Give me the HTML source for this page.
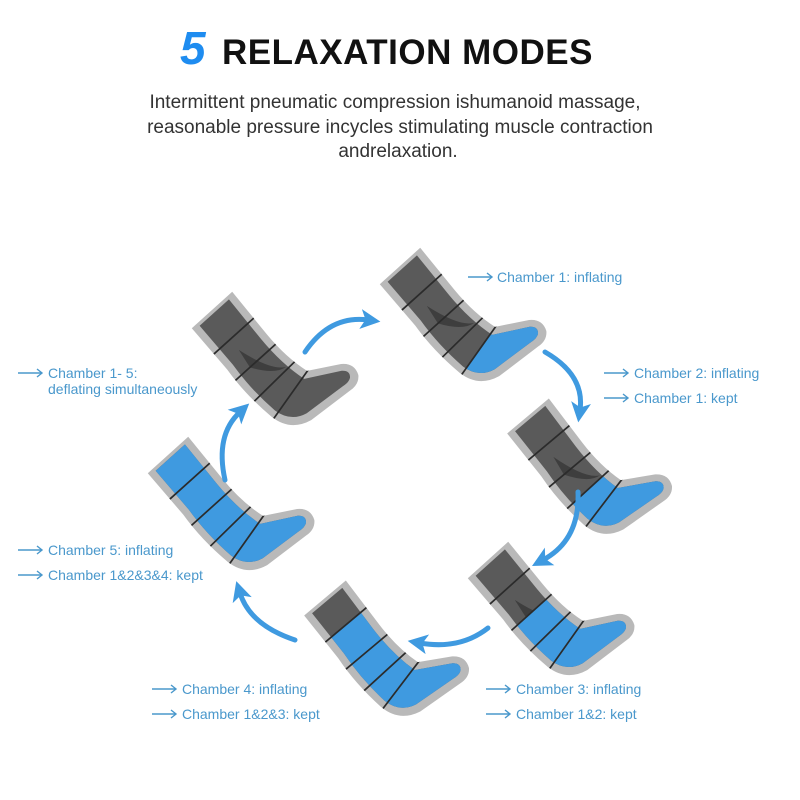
<!DOCTYPE html>
<html><head><meta charset="utf-8"><style>
body{margin:0;width:800px;height:800px;background:#fff;overflow:hidden}
svg{display:block}
</style></head><body>
<svg width="800" height="800" viewBox="0 0 800 800" xmlns="http://www.w3.org/2000/svg" font-family="Liberation Sans, sans-serif">
<defs>
<path id="outer" d="M-40,0 L40,0 L36,80 Q34,125 44,160 L88,186 Q104,198 96,215 Q88,226 72,224 L0,218 Q-34,210 -40,175 Q-47,125 -42,80 Z"/>
<path id="inner" d="M-29,5 L29,5 L25,80 Q23,128 33,166 L82,194 Q92,202 84,210 Q78,214 68,212 L2,206 Q-24,200 -30,172 Q-36,125 -31,80 Z"/>
<clipPath id="ci"><use href="#inner"/></clipPath>
<clipPath id="co"><use href="#outer"/></clipPath>
<g id="lines" clip-path="url(#co)" stroke="#2b2b2b" stroke-width="2.5">
<line x1="-60" y1="50" x2="60" y2="50"/><line x1="-60" y1="100" x2="60" y2="100"/><line x1="-60" y1="142" x2="60" y2="137"/><line x1="-60" y1="184" x2="60" y2="157"/>
</g>
<g id="base"><use href="#outer" fill="#b9b9b9"/><use href="#inner" fill="#5a5a5a"/><path d="M-10,70 Q5,125 25,135 Q5,133 -15,100 Z" fill="#3e3e3e" clip-path="url(#ci)"/></g>
<marker id="ah" markerWidth="4" markerHeight="4" refX="1.5" refY="2" orient="auto"><path d="M0,0 L4,2 L0,4 L1,2 Z" fill="#3f9ae0"/></marker>
</defs>

<text x="180" y="64" font-size="46" font-weight="bold" font-style="italic" fill="#1e8cf0">5</text>
<text x="222" y="64" font-size="35" font-weight="bold" fill="#111" letter-spacing="0.5">RELAXATION MODES</text>
<g font-size="19" fill="#333" text-anchor="middle">
<text x="395" y="108">Intermittent pneumatic compression ishumanoid massage,</text>
<text x="400" y="133">reasonable pressure incycles stimulating muscle contraction</text>
<text x="398" y="157">andrelaxation.</text>
</g>

<!-- legs -->
<g transform="translate(400,266) rotate(-42) scale(0.68)"><use href="#base"/><polygon points="-60,184 60,157 200,157 200,300 -60,300" fill="#3f9ae0" clip-path="url(#ci)"/><use href="#lines"/></g>
<g transform="translate(212,310) rotate(-42) scale(0.68)"><use href="#base"/><use href="#lines"/></g>
<g transform="translate(528,416) rotate(-40) scale(0.68)"><use href="#base"/><polygon points="-60,142 60,137 200,137 200,300 -60,300" fill="#3f9ae0" clip-path="url(#ci)"/><use href="#lines"/></g>
<g transform="translate(488,560) rotate(-42) scale(0.68)"><use href="#base"/><rect x="-60" y="100" width="260" height="200" fill="#3f9ae0" clip-path="url(#ci)"/><use href="#lines"/></g>
<g transform="translate(325,598) rotate(-40) scale(0.68)"><use href="#base"/><rect x="-60" y="50" width="260" height="250" fill="#3f9ae0" clip-path="url(#ci)"/><use href="#lines"/></g>
<g transform="translate(168,455) rotate(-42) scale(0.68)"><use href="#base"/><rect x="-60" y="0" width="260" height="300" fill="#3f9ae0" clip-path="url(#ci)"/><use href="#lines"/></g>

<!-- arrows -->
<g fill="none" stroke="#3f9ae0" stroke-width="5" stroke-linecap="round" marker-end="url(#ah)">
<path d="M305,352 Q330,315 368,320"/>
<path d="M545,352 Q585,375 580,410"/>
<path d="M578,492 Q580,540 543,560"/>
<path d="M488,628 Q460,650 420,643"/>
<path d="M295,640 Q250,625 240,593"/>
<path d="M225,480 Q215,435 240,412"/>
</g>

<!-- labels -->
<g font-size="14" fill="#4a98cc">
<g stroke="#4a98cc" stroke-width="1.4" fill="none">
<path d="M468,277h24M487,273l5,4-5,4"/>
<path d="M604,373h24M623,369l5,4-5,4M604,398h24M623,394l5,4-5,4"/>
<path d="M18,373h24M37,369l5,4-5,4"/>
<path d="M18,550h24M37,546l5,4-5,4M18,575h24M37,571l5,4-5,4"/>
<path d="M152,689h24M171,685l5,4-5,4M152,714h24M171,710l5,4-5,4"/>
<path d="M486,689h24M505,685l5,4-5,4M486,714h24M505,710l5,4-5,4"/>
</g>
<text x="497" y="282">Chamber 1: inflating</text>
<text x="634" y="378">Chamber 2: inflating</text>
<text x="634" y="403">Chamber 1: kept</text>
<text x="48" y="378">Chamber 1- 5:</text>
<text x="48" y="394">deflating simultaneously</text>
<text x="48" y="555">Chamber 5: inflating</text>
<text x="48" y="580">Chamber 1&amp;2&amp;3&amp;4: kept</text>
<text x="182" y="694">Chamber 4: inflating</text>
<text x="182" y="719">Chamber 1&amp;2&amp;3: kept</text>
<text x="516" y="694">Chamber 3: inflating</text>
<text x="516" y="719">Chamber 1&amp;2: kept</text>
</g>
</svg>
</body></html>
